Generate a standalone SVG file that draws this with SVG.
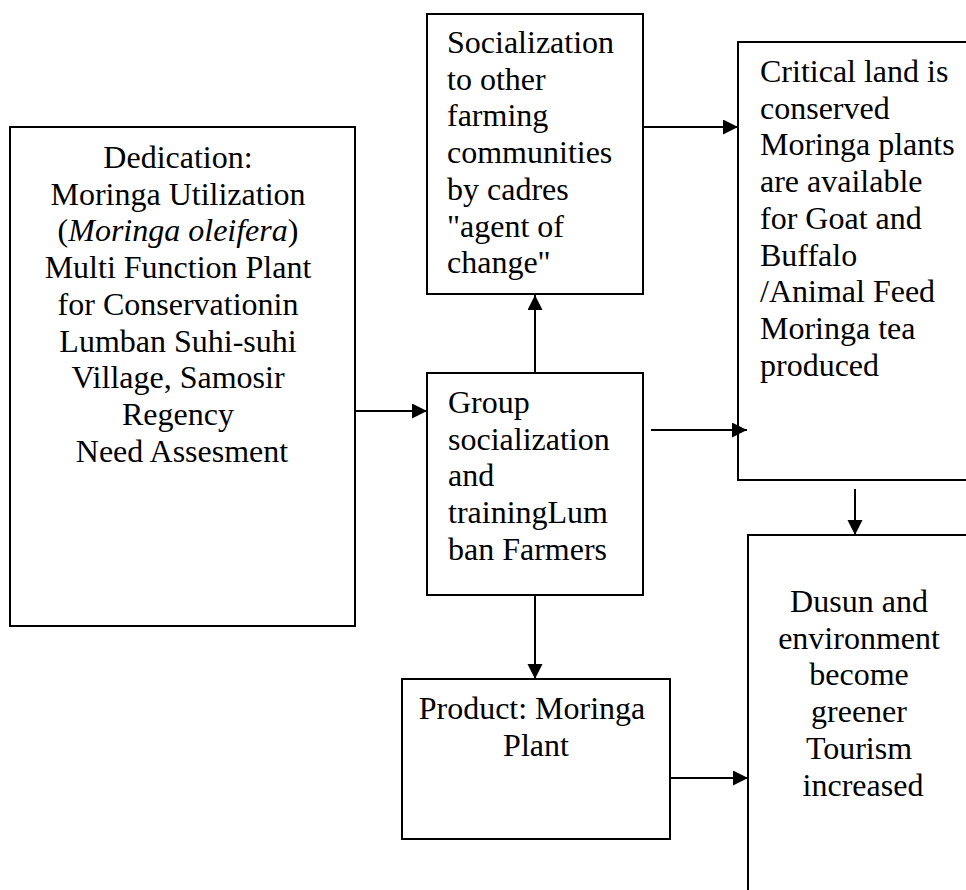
<svg xmlns="http://www.w3.org/2000/svg" width="966" height="890" viewBox="0 0 966 890">
<defs>
<style>
.box{fill:#fff;stroke:#000;stroke-width:2}
.t{font-size:32px;fill:#000}
.c{text-anchor:middle}
.edge{stroke:#000;stroke-width:2;fill:none;marker-end:url(#ah)}
</style>
<marker id="ah" markerUnits="userSpaceOnUse" markerWidth="16" markerHeight="16" refX="15" refY="7.5" orient="auto">
<path d="M0,0 L15,7.5 L0,15 z" fill="#000"/>
</marker>
</defs>
<rect width="966" height="890" fill="#fff"/>
<g font-family="Liberation Serif, Tinos, Times New Roman, DejaVu Serif, serif">
<g id="dedication">
<rect class="box" x="10" y="127" width="345" height="499"/>
<text class="t c" x="182">
<tspan x="182" y="168">Dedication:</tspan>
<tspan x="182" y="204.7">Moringa Utilization</tspan>
<tspan x="182" y="241.4">(<tspan font-style="italic">Moringa oleifera</tspan>)</tspan>
<tspan x="182" y="278.1">Multi Function Plant</tspan>
<tspan x="182" y="314.8">for Conservationin</tspan>
<tspan x="182" y="351.5">Lumban Suhi-suhi</tspan>
<tspan x="182" y="388.2">Village, Samosir</tspan>
<tspan x="182" y="424.9">Regency</tspan>
<tspan x="182" y="461.6">Need Assesment</tspan>
</text>
</g>

<g id="socialization">
<rect class="box" x="427" y="14" width="216" height="280"/>
<text class="t">
<tspan x="447" y="53">Socialization</tspan>
<tspan x="447" y="89.7">to other</tspan>
<tspan x="447" y="126.4">farming</tspan>
<tspan x="447" y="163.1">communities</tspan>
<tspan x="447" y="199.8">by cadres</tspan>
<tspan x="447" y="236.5">"agent of</tspan>
<tspan x="447" y="273.2">change"</tspan>
</text>
</g>

<g id="group">
<rect class="box" x="427" y="373" width="216" height="222"/>
<text class="t">
<tspan x="448" y="413">Group</tspan>
<tspan x="448" y="449.7">socialization</tspan>
<tspan x="448" y="486.4">and</tspan>
<tspan x="448" y="523.1">trainingLum</tspan>
<tspan x="448" y="559.8">ban Farmers</tspan>
</text>
</g>

<g id="critical">
<rect class="box" x="738" y="42" width="260" height="438"/>
<text class="t">
<tspan x="760" y="82">Critical land is</tspan>
<tspan x="760" y="118.7">conserved</tspan>
<tspan x="760" y="155.4">Moringa plants</tspan>
<tspan x="760" y="192.1">are available</tspan>
<tspan x="760" y="228.8">for Goat and</tspan>
<tspan x="760" y="265.5">Buffalo</tspan>
<tspan x="760" y="302.2">/Animal Feed</tspan>
<tspan x="760" y="338.9">Moringa tea</tspan>
<tspan x="760" y="375.6">produced</tspan>
</text>
</g>

<g id="product">
<rect class="box" x="402" y="679" width="268" height="160"/>
<text class="t c">
<tspan x="536" y="719">Product: Moringa</tspan>
<tspan x="536" y="755.7">Plant</tspan>
</text>
</g>

<g id="dusun">
<rect class="box" x="748" y="535" width="240" height="400"/>
<text class="t c">
<tspan x="863" y="612">Dusun and</tspan>
<tspan x="863" y="648.7">environment</tspan>
<tspan x="863" y="685.4">become</tspan>
<tspan x="863" y="722.1">greener</tspan>
<tspan x="863" y="758.8">Tourism</tspan>
<tspan x="863" y="795.5">increased</tspan>
</text>
</g>
</g>
<g id="connectors">
<line class="edge" x1="355" y1="411" x2="427" y2="411"/>
<line class="edge" x1="535" y1="373" x2="535" y2="295"/>
<line class="edge" x1="643" y1="127" x2="738" y2="127"/>
<line class="edge" x1="651" y1="430" x2="747" y2="430"/>
<line class="edge" x1="855" y1="489" x2="855" y2="535"/>
<line class="edge" x1="535" y1="595" x2="535" y2="679"/>
<line class="edge" x1="670" y1="778" x2="748" y2="778"/>
</g>
</svg>
